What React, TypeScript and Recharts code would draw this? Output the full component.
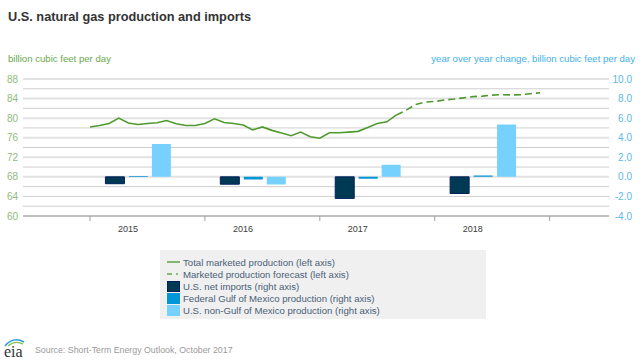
import React from "react";
import { ComposedChart, Line, Bar, XAxis, YAxis, CartesianGrid, Rectangle } from "recharts";

const FONT = "'Liberation Sans', Arial, sans-serif";

const years = ["2015", "2016", "2017", "2018"];
const yearTicks = [0, 12, 24, 36, 48];
const leftTicks = [60, 64, 68, 72, 76, 80, 84, 88];
const rightTicks = [-4, -2, 0, 2, 4, 6, 8, 10];
const majorGrid = [68, 72, 76, 80, 84, 88];
const minorGrid = [62, 64, 66, 70, 74, 78, 82, 86];

const production = [
  78.2, 78.5, 78.9, 80.0, 79.0, 78.7, 78.9, 79.05, 79.5, 78.85, 78.5, 78.5,
  78.9, 79.85, 79.1, 78.9, 78.6, 77.6, 78.2, 77.5, 76.95, 76.4, 77.15, 76.2,
  75.9, 77.0, 77.0, 77.15, 77.3, 78.1, 78.9, 79.25, 80.65,
];
const forecast = [
  80.65, 81.6, 82.8, 83.3, 83.4, 83.7, 83.9, 84.15, 84.4, 84.5, 84.7, 84.8, 84.75, 84.8, 85.0, 85.2,
];
const forecastStart = 32;

const barMonths = [
  [2.6, 5.05, 7.45],
  [14.6, 17.05, 19.45],
  [26.6, 29.05, 31.45],
  [38.6, 41.05, 43.5],
];
const netImports = [-0.7, -0.75, -2.2, -1.7];
const federalGulf = [0.1, -0.28, -0.2, 0.15];
const nonGulf = [3.35, -0.78, 1.25, 5.35];

const legendItems = [
  { label: "Total marketed production (left axis)", kind: "line" },
  { label: "Marketed production forecast (left axis)", kind: "dash" },
  { label: "U.S. net imports (right axis)", kind: "#003953" },
  { label: "Federal Gulf of Mexico production (right axis)", kind: "#0096d7" },
  { label: "U.S. non-Gulf of Mexico production (right axis)", kind: "#76d1ff" },
];

type Row = Record<string, number | undefined>;
const rows: Row[] = [];
production.forEach((v, i) => rows.push({ m: i, production: v }));
forecast.forEach((v, i) => {
  const m = forecastStart + i;
  const found = rows.find((r) => r.m === m);
  if (found) found.forecast = v;
  else rows.push({ m, forecast: v });
});
years.forEach((_, y) => {
  rows.push({ m: barMonths[y][0], netImports: netImports[y] });
  rows.push({ m: barMonths[y][1], federalGulf: federalGulf[y] });
  rows.push({ m: barMonths[y][2], nonGulf: nonGulf[y] });
});
rows.sort((a, b) => (a.m as number) - (b.m as number));

const BAR_W = 19;
const WideBar = (props: any) => {
  const { x, y, width, height, fill, stroke } = props;
  if (!height) return null;
  return <Rectangle x={x + width / 2 - BAR_W / 2} y={y} width={BAR_W} height={height} fill={fill} stroke={stroke} />;
};

const YearTick = (props: any) => {
  const { x, y, payload } = props;
  const idx = yearTicks.indexOf(payload.value);
  return (
    <g>
      <line x1={x} x2={x} y1={y - 8} y2={y - 3} stroke="#a0a0a0" strokeWidth={1} />
      {years[idx] ? (
        <text x={x + 38} y={y + 8} textAnchor="middle" fontSize={9} fill="#3c3c3c" fontFamily={FONT}>
          {years[idx]}
        </text>
      ) : null}
    </g>
  );
};

const LeftTick = (props: any) => (
  <text x={7} y={props.y + 3.5} fontSize={10} fill="#8fbc7a" fontFamily={FONT}>
    {props.payload.value}
  </text>
);

const RightTick = (props: any) => (
  <text x={632} y={props.y + 3.5} textAnchor="end" fontSize={10} fill="#5cb8e6" fontFamily={FONT}>
    {props.payload.value.toFixed(1)}
  </text>
);

const Swatch = ({ kind }: { kind: string }) => {
  if (kind === "line" || kind === "dash") {
    return (
      <svg width={13} height={12} style={{ display: "block" }}>
        <line
          x1={0}
          x2={13}
          y1={6}
          y2={6}
          stroke="#6aa84f"
          strokeWidth={1.6}
          strokeDasharray={kind === "dash" ? "5 4 2 3" : undefined}
        />
      </svg>
    );
  }
  return (
    <div
      style={{
        width: 11,
        height: 9,
        background: kind,
        border: kind === "#003953" ? "1px solid #00205b" : `1px solid ${kind}`,
      }}
    />
  );
};

export default function App() {
  return (
    <div style={{ position: "absolute", left: 0, top: 0, width: 640, height: 360, background: "#fff", overflow: "hidden", fontFamily: FONT }}>
      <div style={{ position: "absolute", left: 8, top: 9, fontSize: 12.75, fontWeight: 700, color: "#333", whiteSpace: "nowrap" }}>
        U.S. natural gas production and imports
      </div>
      <div style={{ position: "absolute", left: 8, top: 53, fontSize: 9.6, color: "#6aa84f", whiteSpace: "nowrap" }}>
        billion cubic feet per day
      </div>
      <div style={{ position: "absolute", right: 5, top: 53, fontSize: 9.6, color: "#45b0e6", whiteSpace: "nowrap" }}>
        year over year change, billion cubic feet per day
      </div>
      <div style={{ position: "absolute", left: 0, top: 0 }}>
        <ComposedChart
          width={640}
          height={360}
          data={rows}
          margin={{ top: 79, right: 0, bottom: 124, left: 0 }}
        >
          <CartesianGrid horizontal vertical={false} horizontalValues={minorGrid} yAxisId="left" stroke="#cfcfcf" strokeWidth={1} syncWithTicks={false} />
          <CartesianGrid horizontal vertical={false} horizontalValues={majorGrid} yAxisId="left" stroke="#e2e2e2" strokeWidth={2} syncWithTicks={false} />
          <XAxis
            dataKey="m"
            type="number"
            domain={[-7, 54.2]}
            ticks={yearTicks}
            allowDataOverflow
            height={20}
            tickLine={false}
            axisLine={{ stroke: "#808080" }}
            tick={<YearTick />}
            interval={0}
          />
          <YAxis yAxisId="left" domain={[60, 88]} ticks={leftTicks} width={23} tickLine={false} axisLine={false} interval={0} tick={<LeftTick />} />
          <YAxis yAxisId="right" orientation="right" domain={[-4, 10]} ticks={rightTicks} width={31} tickLine={false} axisLine={false} interval={0} tick={<RightTick />} />
          <Bar yAxisId="right" dataKey="netImports" stackId="a" fill="#003953" stroke="#00205b" shape={<WideBar />} isAnimationActive={false} />
          <Bar yAxisId="right" dataKey="federalGulf" stackId="a" fill="#0096d7" shape={<WideBar />} isAnimationActive={false} />
          <Bar yAxisId="right" dataKey="nonGulf" stackId="a" fill="#76d1ff" shape={<WideBar />} isAnimationActive={false} />
          <Line yAxisId="left" dataKey="production" stroke="#4f9a2e" strokeWidth={1.6} dot={false} connectNulls isAnimationActive={false} />
          <Line yAxisId="left" dataKey="forecast" stroke="#4f9a2e" strokeWidth={1.6} strokeDasharray="7 4" dot={false} connectNulls isAnimationActive={false} />
        </ComposedChart>
      </div>
      <div style={{ position: "absolute", left: 160, top: 250, width: 326, height: 69, background: "#f0f0f0", boxSizing: "border-box", padding: "6px 0 0 6.5px" }}>
        {legendItems.map((it) => (
          <div key={it.label} style={{ display: "flex", alignItems: "center", height: 12, fontSize: 9.6, color: "#4a5f78", whiteSpace: "nowrap" }}>
            <div style={{ width: 16.5, flex: "none" }}>
              <Swatch kind={it.kind} />
            </div>
            {it.label}
          </div>
        ))}
      </div>
      <svg style={{ position: "absolute", left: 3, top: 337 }} width={24} height={23}>
        <path d="M2 9 Q10 -1 21 5" stroke="#2e9fd6" strokeWidth={1.6} fill="none" />
        <path d="M5 9 Q12 3 20 7" stroke="#8cc152" strokeWidth={1.4} fill="none" />
        <text x={1} y={20} fontFamily="'Liberation Serif', serif" fontSize={16} fill="#333">eia</text>
      </svg>
      <div style={{ position: "absolute", left: 35, top: 345, fontSize: 8.8, color: "#9a9a9a", whiteSpace: "nowrap" }}>
        Source: Short-Term Energy Outlook, October 2017
      </div>
    </div>
  );
}
